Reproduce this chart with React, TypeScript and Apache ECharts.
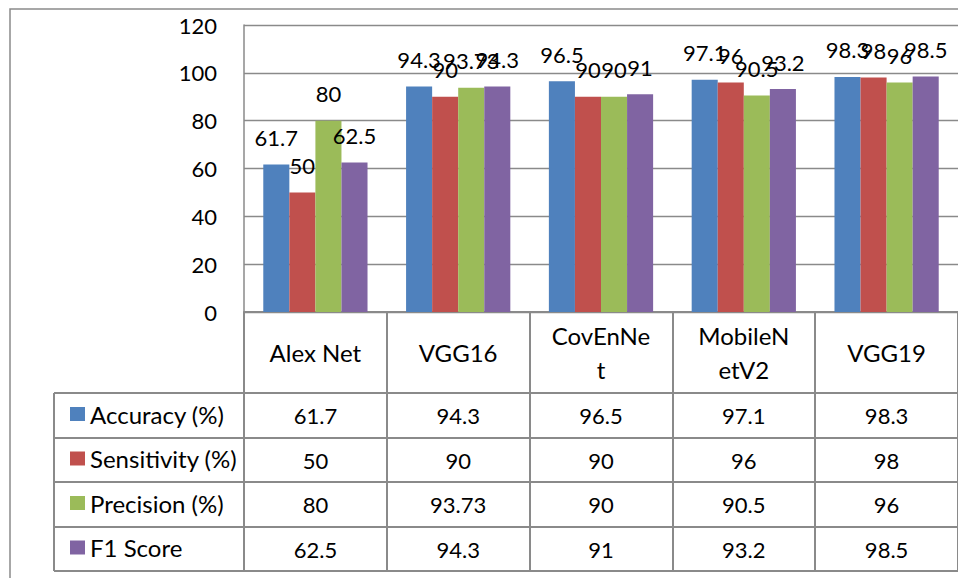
import React, { useEffect, useRef } from "react";
import * as echarts from "echarts";

const categories = ["Alex Net", "VGG16", "CovEnNet", "MobileNetV2", "VGG19"];
const seriesNames = ["Accuracy (%)", "Sensitivity (%)", "Precision (%)", "F1 Score"];
const accuracy = [61.7, 94.3, 96.5, 97.1, 98.3];
const sensitivity = [50, 90, 90, 96, 98];
const precision = [80, 93.73, 90, 90.5, 96];
const f1Score = [62.5, 94.3, 91, 93.2, 98.5];
const yMin = 0;
const yMax = 120;
const yInterval = 20;

const colors = ["#4F81BD", "#C0504D", "#9BBB59", "#8064A2"];
const FONT = "Lato";
const GRAY = "#8a8a8a";
const WRAP_CHARS = 7;

function wrapLabel(v: string): string {
  if (v.indexOf(" ") >= 0 || v.length <= WRAP_CHARS) return v;
  const parts: string[] = [];
  for (let i = 0; i < v.length; i += WRAP_CHARS) parts.push(v.slice(i, i + WRAP_CHARS));
  return parts.join("\n");
}

export default function App() {
  const ref = useRef<HTMLDivElement>(null);
  useEffect(() => {
    if (!ref.current) return;
    const chart = echarts.init(ref.current, undefined, { renderer: "svg" });
    const allSeries = [accuracy, sensitivity, precision, f1Score];
    const gridLeft = 244;
    const gridTop = 25;
    const gridHeight = 287;
    const axisY = gridTop + gridHeight;
    const rowLines = [393, 438, 482, 527, 571];
    const tableBottom = rowLines[rowLines.length - 1];

    chart.setOption({
      animation: false,
      textStyle: { fontFamily: FONT },
      grid: { left: gridLeft, top: gridTop, width: 725, height: gridHeight, containLabel: false },
      legend: {
        orient: "vertical",
        left: 65,
        top: 397,
        itemGap: 20.5,
        itemWidth: 15,
        itemHeight: 14,
        icon: "rect",
        selectedMode: false,
        data: seriesNames,
        textStyle: { fontFamily: FONT, fontSize: 24, lineHeight: 24, color: "#000" },
      },
      xAxis: {
        type: "category",
        data: categories,
        axisLine: { show: true, lineStyle: { color: GRAY, width: 2 } },
        axisTick: {
          show: true,
          interval: 0,
          alignWithLabel: false,
          length: tableBottom - axisY,
          lineStyle: { color: GRAY, width: 2 },
        },
        axisLabel: {
          interval: 0,
          margin: 40,
          verticalAlign: "middle",
          fontFamily: FONT,
          fontSize: 24,
          lineHeight: 34,
          color: "#000",
          formatter: (v: string) => wrapLabel(v),
        },
      },
      yAxis: {
        type: "value",
        min: yMin,
        max: yMax,
        interval: yInterval,
        axisLine: { show: true, lineStyle: { color: GRAY, width: 1.5 } },
        axisTick: { show: false },
        axisLabel: { margin: 27, fontFamily: FONT, fontSize: 22, color: "#000" },
        splitLine: { show: true, lineStyle: { color: GRAY, width: 1.3 } },
      },
      series: allSeries.map((d, i) => ({
        type: "bar",
        name: seriesNames[i],
        data: d,
        barGap: "0%",
        barCategoryGap: "27%",
        itemStyle: { color: colors[i] },
        label: {
          show: true,
          position: "top",
          distance: 16,
          fontFamily: FONT,
          fontSize: 22,
          color: "#000",
        },
      })),
    });

    const graphics: any[] = [];
    graphics.push({
      type: "rect",
      shape: { x: 10, y: 9, width: 1000, height: 1000 },
      style: { fill: "none", stroke: GRAY, lineWidth: 1.5 },
      z: -10,
      silent: true,
    });
    rowLines.forEach((y) => {
      graphics.push({
        type: "line",
        shape: { x1: 54, y1: y, x2: 1000, y2: y },
        style: { stroke: GRAY, lineWidth: 2 },
        silent: true,
      });
    });
    graphics.push({
      type: "line",
      shape: { x1: 54, y1: rowLines[0], x2: 54, y2: tableBottom },
      style: { stroke: GRAY, lineWidth: 2 },
      silent: true,
    });
    allSeries.forEach((d, r) => {
      const cy = (rowLines[r] + rowLines[r + 1]) / 2;
      d.forEach((v, c) => {
        const cx = chart.convertToPixel({ xAxisIndex: 0 }, c) as number;
        graphics.push({
          type: "text",
          x: cx,
          y: cy,
          style: {
            text: String(v),
            fontFamily: FONT,
            fontSize: 22,
            fill: "#000",
            align: "center",
            verticalAlign: "middle",
          },
          silent: true,
        });
      });
    });
    chart.setOption({ graphic: graphics });

    return () => chart.dispose();
  }, []);
  return (
    <div
      ref={ref}
      style={{ position: "fixed", left: 0, top: 0, width: 958, height: 578, background: "#fff" }}
    />
  );
}
